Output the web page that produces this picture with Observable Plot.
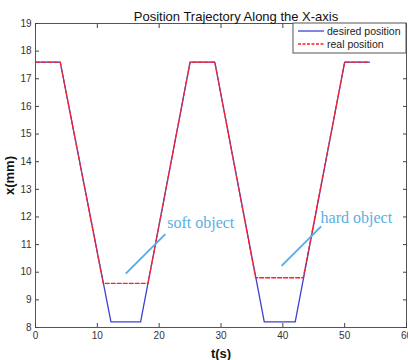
<!DOCTYPE html>
<html>
<head>
<meta charset="utf-8">
<script src="https://cdn.jsdelivr.net/npm/d3@7"></script>
<script src="https://cdn.jsdelivr.net/npm/@observablehq/plot@0.6"></script>
<style>
  body { margin: 0; background: #fff; }
  svg { font-family: Arial, "Liberation Sans", sans-serif; }
</style>
</head>
<body>
<div id="chart"></div>
<script>
// Data
const desiredT = [0, 4, 12.2, 17, 25, 29, 37, 42, 50, 54];
const desiredX = [17.6, 17.6, 8.2, 8.2, 17.6, 17.6, 8.2, 8.2, 17.6, 17.6];
const realT = [0, 4, 10.95, 18.2, 25, 29, 35.6, 43.3, 50, 54];
const realX = [17.6, 17.6, 9.6, 9.6, 17.6, 17.6, 9.8, 9.8, 17.6, 17.6];
const xTicks = [0, 10, 20, 30, 40, 50, 60];
const yTicks = [8, 9, 10, 11, 12, 13, 14, 15, 16, 17, 18, 19];
const seriesNames = ["desired position", "real position"];
const annotLabels = ["soft object", "hard object"];
const annotTextT = [21.3, 46.1];
const annotTextX = [11.8, 11.96];
const annotLineT1 = [14.6, 39.8];
const annotLineX1 = [9.95, 10.23];
const annotLineT2 = [21.0, 46.2];
const annotLineX2 = [11.38, 11.66];

const desired = desiredT.map((t, i) => ({t, x: desiredX[i]}));
const real = realT.map((t, i) => ({t, x: realX[i]}));
const annots = annotLabels.map((label, i) => ({
  label, t: annotTextT[i], x: annotTextX[i],
  t1: annotLineT1[i], x1: annotLineX1[i], t2: annotLineT2[i], x2: annotLineX2[i]
}));

const blue = "#4040d0";
const red = "#ff2020";
const annotColor = "#5aafe2";
const tickColor = "#444";

const chart = Plot.plot({
  width: 408,
  height: 360,
  marginLeft: 35,
  marginRight: 2,
  marginTop: 23,
  marginBottom: 33,
  x: {domain: [0, 60]},
  y: {domain: [8, 19]},
  marks: [
    Plot.frame({stroke: "#555", strokeWidth: 1}),
    // inward ticks on all four sides
    Plot.axisX(xTicks, {anchor: "bottom", tickSize: -4, text: null, label: null, stroke: tickColor}),
    Plot.axisX(xTicks, {anchor: "top", tickSize: -4, text: null, label: null, stroke: tickColor}),
    Plot.axisY(yTicks, {anchor: "left", tickSize: -4, text: null, label: null, stroke: tickColor}),
    Plot.axisY(yTicks, {anchor: "right", tickSize: -4, text: null, label: null, stroke: tickColor}),
    // tick labels
    Plot.axisX(xTicks, {anchor: "bottom", tickSize: 0, tickPadding: 4, fontSize: 10, fill: "#333",
      label: "t(s)", labelAnchor: "center", labelOffset: 30, labelArrow: "none"}),
    Plot.axisY(yTicks, {anchor: "left", tickSize: 0, tickPadding: 4, fontSize: 10, fill: "#333",
      label: "x(mm)", labelAnchor: "center", labelOffset: 31, labelArrow: "none"}),
    Plot.line(desired, {x: "t", y: "x", stroke: blue, strokeWidth: 1.3}),
    Plot.line(real, {x: "t", y: "x", stroke: red, strokeWidth: 1.3, strokeDasharray: "4,2"}),
    Plot.link(annots, {x1: "t1", y1: "x1", x2: "t2", y2: "x2", stroke: annotColor, strokeWidth: 2}),
    Plot.text(annots, {x: "t", y: "x", text: "label", textAnchor: "start", fill: annotColor,
      fontSize: 16, fontFamily: "Liberation Serif, Times New Roman, serif"}),
    // title
    Plot.text(["Position Trajectory Along the X-axis"], {frameAnchor: "top", dy: -12, fontSize: 13,
      fontWeight: 500, fill: "#111", dx: 15})
  ]
});

// Style axis labels
chart.querySelectorAll("g[aria-label='x-axis label'] text, g[aria-label='y-axis label'] text").forEach(t => {
  t.setAttribute("font-size", "13");
  t.setAttribute("font-weight", "bold");
  t.setAttribute("fill", "#111");
});

// Legend inside the SVG, drawn at top-right
const ns = "http://www.w3.org/2000/svg";
const lg = document.createElementNS(ns, "g");
lg.setAttribute("text-anchor", "start");
const bx = 293, by = 23, bw = 113, bh = 30;
const rect = document.createElementNS(ns, "rect");
rect.setAttribute("x", bx); rect.setAttribute("y", by);
rect.setAttribute("width", bw); rect.setAttribute("height", bh);
rect.setAttribute("fill", "white"); rect.setAttribute("stroke", "#555");
lg.appendChild(rect);
const colors = [blue, red];
seriesNames.forEach((name, i) => {
  const yy = by + 8 + i * 13;
  const ln = document.createElementNS(ns, "line");
  ln.setAttribute("x1", bx + 5); ln.setAttribute("x2", bx + 31);
  ln.setAttribute("y1", yy); ln.setAttribute("y2", yy);
  ln.setAttribute("stroke", colors[i]); ln.setAttribute("stroke-width", 1.3);
  if (i === 1) ln.setAttribute("stroke-dasharray", "3,1.5");
  lg.appendChild(ln);
  const tx = document.createElementNS(ns, "text");
  tx.setAttribute("x", bx + 34); tx.setAttribute("y", yy);
  tx.setAttribute("dy", "0.35em"); tx.setAttribute("font-size", "10.5");
  tx.setAttribute("text-anchor", "start");
  tx.setAttribute("fill", "#222");
  tx.textContent = name;
  lg.appendChild(tx);
});
chart.appendChild(lg);

document.getElementById("chart").appendChild(chart);
</script>
</body>
</html>
